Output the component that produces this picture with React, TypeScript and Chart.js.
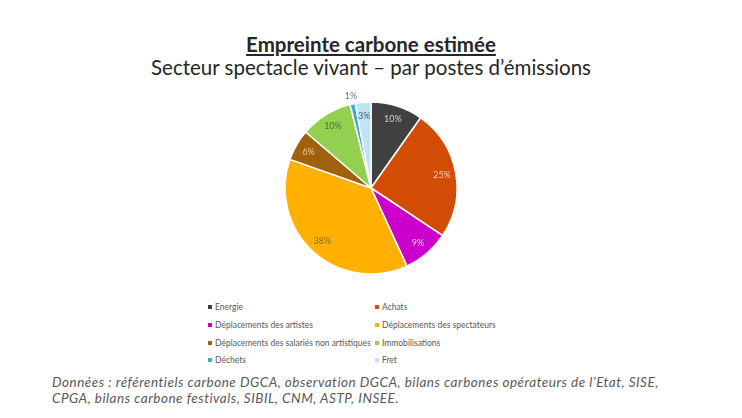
import { useEffect, useRef } from "react";
import {
  Chart,
  ArcElement,
  PieController,
  type ChartConfiguration,
  type Plugin,
} from "chart.js";

Chart.register(ArcElement, PieController);

const categories = [
  "Energie",
  "Achats",
  "Déplacements des artistes",
  "Déplacements des spectateurs",
  "Déplacements des salariés non artistiques",
  "Immobilisations",
  "Déchets",
  "Fret",
];
const shares = [10, 25, 9, 38, 6, 10, 1, 3];

const COLORS = [
  "#404040",
  "#D24C04",
  "#CC00CC",
  "#FFB000",
  "#A0600C",
  "#92D050",
  "#3FA9DA",
  "#BFE4F6",
];
const LABEL_COLORS = [
  "#d0d0d0",
  "#f3d3bd",
  "#f2c8f2",
  "#8c6a1e",
  "#ecd0a6",
  "#4f6e2c",
  "#5c7c98",
  "#3f5d78",
];

const FONT = "Lato, 'Open Sans', sans-serif";
const GREY = "#595959";

// percent labels drawn on the slices (tiny slices get theirs outside)
const sliceLabels: Plugin<"pie"> = {
  id: "sliceLabels",
  afterDatasetsDraw(chart) {
    const ctx = chart.ctx;
    const meta = chart.getDatasetMeta(0);
    ctx.save();
    ctx.font = `9px ${FONT}`;
    ctx.textAlign = "center";
    ctx.textBaseline = "middle";
    meta.data.forEach((el, i) => {
      const p = el.getProps(
        ["x", "y", "startAngle", "endAngle", "outerRadius"],
        true
      ) as any;
      const mid = (p.startAngle + p.endAngle) / 2;
      const r = shares[i] < 2 ? p.outerRadius + 8 : p.outerRadius * 0.84;
      ctx.fillStyle = LABEL_COLORS[i];
      ctx.fillText(`${shares[i]}%`, p.x + Math.cos(mid) * r, p.y + Math.sin(mid) * r);
    });
    ctx.restore();
  },
};

export default function App() {
  const canvasRef = useRef<HTMLCanvasElement>(null);
  const chartRef = useRef<Chart | null>(null);

  useEffect(() => {
    document.body.style.margin = "0";
    if (!canvasRef.current) return;
    chartRef.current?.destroy();

    const cfg: ChartConfiguration<"pie"> = {
      type: "pie",
      data: {
        labels: categories,
        datasets: [
          {
            data: shares,
            backgroundColor: COLORS,
            borderColor: "#ffffff",
            borderWidth: 1.5,
            radius: 86,
          },
        ],
      },
      options: {
        animation: false,
        responsive: false,
        maintainAspectRatio: false,
        events: [],
        layout: { padding: 0 },
        plugins: { legend: { display: false }, tooltip: { enabled: false } },
      },
      plugins: [sliceLabels],
    };

    chartRef.current = new Chart(canvasRef.current, cfg);
    return () => {
      chartRef.current?.destroy();
    };
  }, []);

  const colX = [208, 375];
  const rowY = [307, 325, 343, 360];

  return (
    <div
      style={{
        position: "relative",
        width: 742,
        height: 418,
        background: "#fff",
        fontFamily: FONT,
        overflow: "hidden",
      }}
    >
      <div
        style={{
          position: "absolute",
          top: 32,
          left: 0,
          width: 742,
          textAlign: "center",
          fontSize: 20.5,
          lineHeight: "24px",
          fontWeight: 700,
          color: "#262626",
          textDecoration: "underline",
          textUnderlineOffset: 2,
        }}
      >
        Empreinte carbone estimée
      </div>
      <div
        style={{
          position: "absolute",
          top: 55,
          left: 0,
          width: 742,
          textAlign: "center",
          fontSize: 20.5,
          lineHeight: "24px",
          color: "#262626",
        }}
      >
        Secteur spectacle vivant – par postes d’émissions
      </div>

      <canvas
        ref={canvasRef}
        width={742}
        height={200}
        style={{ position: "absolute", left: 0, top: 88, width: 742, height: 200 }}
      />

      {categories.map((c, i) => (
        <div
          key={c}
          style={{
            position: "absolute",
            left: colX[i % 2],
            top: rowY[Math.floor(i / 2)] - 6,
            height: 12,
            lineHeight: "12px",
            fontSize: 8.5,
            color: GREY,
            whiteSpace: "nowrap",
            display: "flex",
            alignItems: "center",
          }}
        >
          <span
            style={{
              display: "inline-block",
              width: 4,
              height: 4,
              background: COLORS[i],
              marginRight: 3,
            }}
          />
          {c}
        </div>
      ))}

      <div
        style={{
          position: "absolute",
          left: 52,
          top: 374,
          fontSize: 13.5,
          letterSpacing: 0.5,
          lineHeight: "16px",
          fontStyle: "italic",
          color: GREY,
          whiteSpace: "nowrap",
        }}
      >
        Données : référentiels carbone DGCA, observation DGCA, bilans carbones opérateurs de l’Etat, SISE,
        <br />
        CPGA, bilans carbone festivals, SIBIL, CNM, ASTP, INSEE.
      </div>
    </div>
  );
}
